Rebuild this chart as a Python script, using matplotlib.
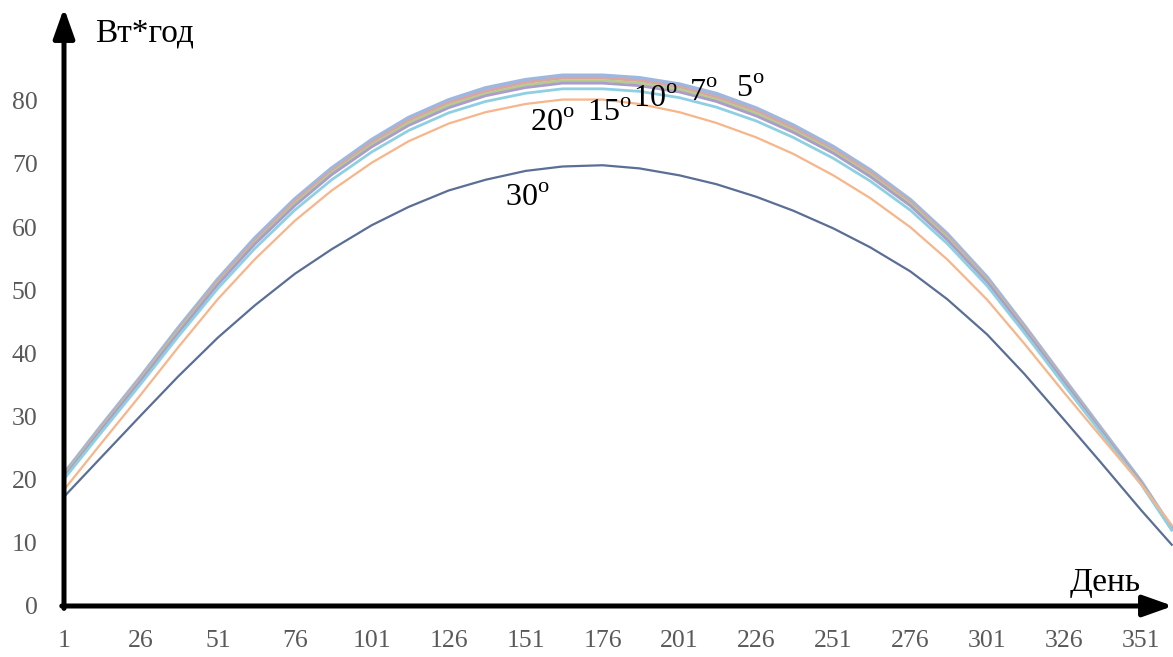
import numpy as np
import matplotlib
matplotlib.use("Agg")
import matplotlib.pyplot as plt

plt.rcParams['font.family'] = ['Liberation Serif', 'DejaVu Serif']
plt.rcParams['mathtext.fontset'] = 'custom'
plt.rcParams['mathtext.rm'] = 'Liberation Serif'

# day of year and energy per day
days = [1, 13, 26, 38, 51, 63, 76, 88, 101, 113, 126, 138, 151, 163, 176,
        188, 201, 213, 226, 238, 251, 263, 276, 288, 301, 313, 326, 338, 351, 361]
t0 = [20.9, 28.4, 36.3, 43.9, 51.7, 58.2, 64.4, 69.3, 73.8, 77.3, 80.1, 82.0, 83.3, 84.0, 84.0,
      83.6, 82.6, 81.1, 78.8, 76.1, 72.7, 69.0, 64.3, 58.9, 52.0, 44.4, 35.9, 28.1, 19.7, 12.3]
t5 = [20.7, 28.2, 36.1, 43.6, 51.4, 57.8, 64.1, 68.9, 73.4, 76.9, 79.7, 81.5, 82.9, 83.6, 83.6,
      83.2, 82.2, 80.6, 78.4, 75.7, 72.3, 68.7, 64.0, 58.6, 51.7, 44.2, 35.7, 27.9, 19.6, 12.2]
t7 = [20.6, 28.0, 35.9, 43.4, 51.1, 57.5, 63.7, 68.6, 73.0, 76.5, 79.3, 81.1, 82.5, 83.2, 83.2,
      82.8, 81.8, 80.2, 78.0, 75.3, 72.0, 68.3, 63.7, 58.3, 51.5, 44.0, 35.5, 27.8, 19.5, 12.2]
t10 = [20.4, 27.8, 35.7, 43.1, 50.9, 57.3, 63.4, 68.3, 72.7, 76.1, 78.9, 80.8, 82.1, 82.8, 82.8,
       82.4, 81.4, 79.9, 77.6, 75.0, 71.7, 68.0, 63.4, 58.0, 51.3, 43.8, 35.4, 27.7, 19.5, 12.1]
t15 = [20.1, 27.4, 35.2, 42.6, 50.3, 56.6, 62.7, 67.5, 71.9, 75.3, 78.1, 79.9, 81.2, 81.9, 81.9,
       81.5, 80.5, 79.0, 76.8, 74.2, 70.9, 67.3, 62.7, 57.4, 50.7, 43.3, 35.0, 27.4, 19.3, 12.0]
t20 = [18.4, 25.7, 33.5, 40.9, 48.6, 54.9, 61.0, 65.8, 70.2, 73.6, 76.4, 78.2, 79.5, 80.2, 80.2,
       79.5, 78.2, 76.5, 74.2, 71.6, 68.2, 64.6, 60.0, 54.9, 48.5, 41.6, 33.8, 26.8, 19.3, 12.8]
t30 = [17.3, 23.5, 30.2, 36.3, 42.5, 47.6, 52.6, 56.5, 60.3, 63.2, 65.8, 67.5, 68.9, 69.6, 69.8,
       69.3, 68.2, 66.8, 64.8, 62.6, 59.8, 56.8, 53.0, 48.6, 43.0, 36.8, 29.5, 22.7, 15.2, 9.7]

xticks = [1, 26, 51, 76, 101, 126, 151, 176, 201, 226, 251, 276, 301, 326, 351]
yticks = [0, 10, 20, 30, 40, 50, 60, 70, 80]

labels = ['30', '20', '15', '10', '7', '5']
label_x = [144.3, 152.6, 171.1, 186.0, 204.0, 219.4]
label_y = [63.3, 75.2, 76.8, 79.1, 79.9, 80.6]

fig = plt.figure(figsize=(11.73, 6.57), dpi=100)
ax = fig.add_axes([64 / 1173, 51 / 657, 1109 / 1173, 598 / 657])

ax.plot(days, t0, color='#9db8e0', lw=3.0)
ax.plot(days, t5, color='#dca3a3', lw=2.0)
ax.plot(days, t7, color='#b4cc8c', lw=2.0)
ax.plot(days, t10, color='#ab9cca', lw=2.0)
ax.plot(days, t15, color='#8ed0e2', lw=2.0)
ax.plot(days, t20, color='#f7b58a', lw=1.6)
ax.plot(days, t30, color='#5a6e96', lw=1.6)

for s, x, y in zip(labels, label_x, label_y):
    ax.text(x, y, s + r'$^{\mathrm{o}}$', fontsize=23, ha='left', va='baseline')

ax.set_xlim(1, 361.4)
ax.set_ylim(0, 94.7)
ax.set_xticks(xticks)
ax.set_yticks(yticks)
ax.tick_params(length=0, labelsize=18.5, labelcolor='#595959')
ax.tick_params(axis='x', pad=17)
ax.tick_params(axis='y', pad=19)
for s in ['top', 'right', 'left', 'bottom']:
    ax.spines[s].set_visible(False)

# axes drawn as arrows
arrow = dict(arrowstyle='-|>,head_length=0.9,head_width=0.32', lw=3.6,
             color='black', shrinkA=0, shrinkB=0, mutation_scale=20)
ax.annotate('', xy=(1.0, 0), xytext=(-0.002, 0), xycoords='axes fraction',
            arrowprops=arrow, annotation_clip=False)
ax.annotate('', xy=(0, 1.0), xytext=(0, -0.004), xycoords='axes fraction',
            arrowprops=arrow, annotation_clip=False)

fig.text(95 / 1173, 1 - 42 / 657, 'Вт*год', fontsize=24, ha='left', va='baseline')
fig.text(1141 / 1173, 1 - 591 / 657, 'День', fontsize=24, ha='right', va='baseline')

fig.savefig('out.png', dpi=100)
